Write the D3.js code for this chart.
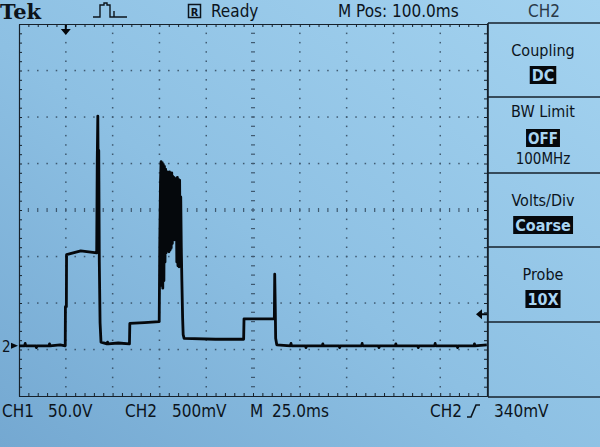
<!DOCTYPE html>
<html>
<head>
<meta charset="utf-8">
<script src="https://cdn.jsdelivr.net/npm/d3@7"></script>
<style>
  body { margin: 0; background: #86bbe0; }
  svg { display: block; }
  text { font-family: "DejaVu Sans Condensed", "DejaVu Sans", sans-serif; fill: #0c141c; }
</style>
</head>
<body>
<svg width="600" height="447"></svg>
<script>
// CH2 trace: time in ms from the trigger, level in volts
const timeMs = [-25, -22, -21.7, -21.4, -16, -15.7, -15.4, -9, -8.7, -8.4, -3, -0.3, -0.2, 0.3, 0.4, 8, 16.5, 16.8, 17.1, 17.4, 17.6, 17.9, 18.3, 18.8,
  22, 22.3, 22.6, 28, 34.0,
  34.2, 42, 49.9, 50.2, 50.6, 50.9, 51.2, 51.5, 51.8, 52.1, 52.4, 52.7, 53.0, 53.3, 53.6,
  54.2, 54.5, 54.8, 55.1, 55.4, 55.7, 56.0, 56.3, 56.6, 56.9,
  57.2, 57.5, 57.8, 58.1, 58.4, 58.7, 59.0, 59.3,
  59.6, 59.9, 60.2, 60.5, 60.8, 61.1, 61.4, 61.7, 62.0, 62.4, 62.7, 63.2,
  80, 95.0, 95.2, 103, 111.4, 111.6, 111.9, 112.1, 112.7,
  120, 120.3, 120.6, 128, 128.3, 128.6, 137, 137.3, 137.6, 146, 146.3, 146.6, 158, 158.3, 158.6,
  167, 167.3, 167.6, 176, 176.3, 176.6, 188, 188.3, 188.6, 197, 197.3, 197.6, 209, 209.3, 209.6, 218, 218.3, 218.6, 224.9];
const volts = [0.00, 0.00, 0.025, 0.00, 0.00, -0.02, 0.00, 0.00, 0.02, 0.00, 0.01, 0.00, 0.42, 0.42, 0.98, 1.02, 1.00, 2.00, 2.47, 1.50, 2.10, 0.90, 0.25, 0.04,
  0.02, 0.04, 0.02, 0.03, 0.02,
  0.24, 0.25, 0.26, 1.10, 1.78, 1.98, 0.65, 1.97, 0.62, 1.95, 0.70, 1.93, 0.90, 1.90, 1.00,
  1.87, 1.05, 1.86, 1.01, 1.87, 1.03, 1.85, 1.05, 1.86, 1.10,
  1.82, 1.15, 1.81, 1.14, 1.80, 1.20, 1.79, 0.90,
  1.81, 0.86, 1.79, 0.85, 1.78, 0.90, 1.60, 1.05, 0.70, 0.30, 0.12, 0.08,
  0.07, 0.07, 0.29, 0.29, 0.29, 0.77, 0.40, 0.08, 0.01,
  0.00, 0.025, 0.00, 0.00, -0.02, 0.00, 0.00, 0.02, 0.00, 0.00, -0.02, 0.00, 0.00, 0.025, 0.00,
  0.00, -0.02, 0.00, 0.00, 0.02, 0.00, 0.00, -0.02, 0.00, 0.00, 0.025, 0.00, 0.00, -0.02, 0.00, 0.00, 0.02, 0.00, 0.01];

const menuTitles = ['Coupling', 'BW Limit', 'Volts/Div', 'Probe'];
const menuValues = ['DC', 'OFF', 'Coarse', '10X'];
const menuNotes = ['', '100MHz', '', ''];

const footerLabels = ['CH1', '50.0V', 'CH2', '500mV', 'M', '25.0ms', 'CH2', '340mV'];
const triggerLevel = 0.34;

const svg = d3.select('svg');

const defs = svg.append('defs');
const grad = defs.append('linearGradient').attr('id', 'screen')
  .attr('x1', '1').attr('y1', '0').attr('x2', '0').attr('y2', '1');
grad.append('stop').attr('offset', '0%').attr('stop-color', '#a4d3f0');
grad.append('stop').attr('offset', '55%').attr('stop-color', '#8dc0e3');
grad.append('stop').attr('offset', '100%').attr('stop-color', '#74a8d1');

svg.append('rect').attr('width', 600).attr('height', 447).attr('fill', 'url(#screen)');

const x = d3.scaleLinear().domain([-25, 225]).range([19, 487]);
const y = d3.scaleLinear().domain([-0.54, 3.46]).range([396, 24]);

const ink = '#16212b';
const g = svg.append('g');

// graticule dots
const xMajor = d3.range(0, 225, 25);
const yMajor = d3.range(1, 8).map(k => -0.54 + k * 0.5);
const xMinor = d3.range(-25, 225.1, 5);
const yMinor = d3.range(0, 41).map(k => -0.54 + k * 0.1);
const xCenter = 100, yCenter = 1.46;

const dots = g.append('g').attr('fill', '#2c4054').attr('opacity', 0.8);
xMajor.filter(t => t !== xCenter).forEach(t => {
  dots.selectAll(null).data(yMinor.slice(1, -1)).enter().append('rect')
    .attr('x', x(t) - 0.7).attr('y', d => y(d) - 0.7).attr('width', 1.5).attr('height', 1.5);
});
yMajor.filter(v => Math.abs(v - yCenter) > 1e-6).forEach(v => {
  dots.selectAll(null).data(xMinor.slice(1, -1)).enter().append('rect')
    .attr('x', d => x(d) - 0.7).attr('y', y(v) - 0.7).attr('width', 1.5).attr('height', 1.5);
});
// centre lines carry short ticks
dots.selectAll(null).data(yMinor.slice(1, -1)).enter().append('rect')
  .attr('x', x(xCenter) - 2).attr('y', d => y(d) - 0.6).attr('width', 4).attr('height', 1.2);
dots.selectAll(null).data(xMinor.slice(1, -1)).enter().append('rect')
  .attr('x', d => x(d) - 0.6).attr('y', y(yCenter) - 2).attr('width', 1.2).attr('height', 4);

// border rulers
const styleAxis = sel => {
  sel.select('.domain').attr('stroke', ink).attr('stroke-width', 1.2);
  sel.selectAll('.tick line').attr('stroke', ink).attr('stroke-width', 1);
  sel.selectAll('.tick text').remove();
};
g.append('g').attr('transform', `translate(0,${y.range()[1]})`)
  .call(d3.axisBottom(x).tickValues(xMinor).tickSize(3).tickSizeOuter(0)).call(styleAxis);
g.append('g').attr('transform', `translate(0,${y.range()[0]})`)
  .call(d3.axisTop(x).tickValues(xMinor).tickSize(3).tickSizeOuter(0)).call(styleAxis);
g.append('g').attr('transform', `translate(${x.range()[0]},0)`)
  .call(d3.axisRight(y).tickValues(yMinor).tickSize(3).tickSizeOuter(0)).call(styleAxis);
g.append('g').attr('transform', `translate(${x.range()[1]},0)`)
  .call(d3.axisLeft(y).tickValues(yMinor).tickSize(3).tickSizeOuter(0)).call(styleAxis);

// trace
const trace = timeMs.map((t, i) => ({ t, v: volts[i] }));
g.append('path')
  .datum(trace)
  .attr('fill', 'none')
  .attr('stroke', '#05080c')
  .attr('stroke-width', 2.8)
  .attr('stroke-linejoin', 'round')
  .attr('d', d3.line().x(d => x(d.t)).y(d => y(d.v)));

// trigger position marker
const tx = x(0);
g.append('path')
  .attr('d', `M${tx - 1},25 V29 H${tx - 5} L${tx},35 L${tx + 5},29 H${tx + 1} V25 Z`)
  .attr('fill', '#05080c');

// ground marker for CH2
svg.append('text').attr('x', 2).attr('y', y(0) + 6).attr('font-size', 15).text('2');
svg.append('path')
  .attr('d', `M11,${y(0) - 3} L18,${y(0)} L11,${y(0) + 3} Z`).attr('fill', '#05080c');

// trigger level marker
const ly = y(triggerLevel);
svg.append('path')
  .attr('d', `M476,${ly} L482,${ly - 5} V${ly - 1} H487 V${ly + 1} H482 V${ly + 5} Z`)
  .attr('fill', '#05080c');

// side menu
const menu = svg.append('g');
const boxTops = [23, 97, 173, 247, 322, 397];
menu.append('line').attr('x1', 488).attr('x2', 488).attr('y1', 23).attr('y2', 397)
  .attr('stroke', ink).attr('stroke-width', 1.6);
menu.selectAll('line.sep').data(boxTops).enter().append('line').attr('class', 'sep')
  .attr('x1', 488).attr('x2', 600).attr('y1', d => d).attr('y2', d => d)
  .attr('stroke', ink).attr('stroke-width', 1.6);

menuTitles.forEach((title, i) => {
  const top = boxTops[i];
  const hasNote = menuNotes[i] !== '';
  const cx = 543;
  menu.append('text').attr('x', cx).attr('y', top + (hasNote ? 20 : 33))
    .attr('text-anchor', 'middle').attr('font-size', 16).text(title);
  const vy = top + (hasNote ? 47 : 58);
  const vt = menu.append('text').attr('x', cx).attr('y', vy)
    .attr('text-anchor', 'middle').attr('font-size', hasNote ? 15 : 16).attr('font-weight', 'bold')
    .style('fill', '#a9d5f2').text(menuValues[i]);
  const bb = vt.node().getBBox();
  menu.insert('rect', () => vt.node())
    .attr('x', bb.x - 2).attr('y', vy - 15).attr('width', bb.width + 4).attr('height', 18)
    .attr('fill', '#05080c');
  if (hasNote) {
    menu.append('text').attr('x', cx).attr('y', top + 67)
      .attr('text-anchor', 'middle').attr('font-size', 15).text(menuNotes[i]);
  }
});

// header
svg.append('text').attr('x', 0).attr('y', 19)
  .style('font-family', '"DejaVu Serif", serif').attr('font-weight', 'bold').attr('font-size', 21).text('Tek');
svg.append('path')
  .attr('d', 'M93,17 H100 V5 H104 V3 H107 V5 H110 V17 H114 V11 V17 H127')
  .attr('fill', 'none').attr('stroke', '#0c141c').attr('stroke-width', 1.4);
svg.append('rect').attr('x', 188.5).attr('y', 4.5).attr('width', 12).attr('height', 13)
  .attr('fill', 'none').attr('stroke', '#0c141c').attr('stroke-width', 1.5);
svg.append('text').attr('x', 194.5).attr('y', 15.5).attr('text-anchor', 'middle')
  .attr('font-size', 11).attr('font-weight', 'bold').text('R');
svg.append('text').attr('x', 211).attr('y', 17).attr('font-size', 17).text('Ready');
svg.append('text').attr('x', 338).attr('y', 17).attr('font-size', 17).text('M Pos: 100.0ms');
svg.append('text').attr('x', 528).attr('y', 17).attr('font-size', 17).style('fill', '#2b3a48').text('CH2');

// footer
const footerX = [2, 48, 125, 172, 250, 272, 430, 494];
svg.selectAll('text.foot').data(footerLabels).enter().append('text').attr('class', 'foot')
  .attr('x', (d, i) => footerX[i]).attr('y', 417).attr('font-size', 17).text(d => d);
svg.append('path')
  .attr('d', 'M467,417 H471 L476,405 H480')
  .attr('fill', 'none').attr('stroke', '#0c141c').attr('stroke-width', 1.6);
</script>
</body>
</html>
